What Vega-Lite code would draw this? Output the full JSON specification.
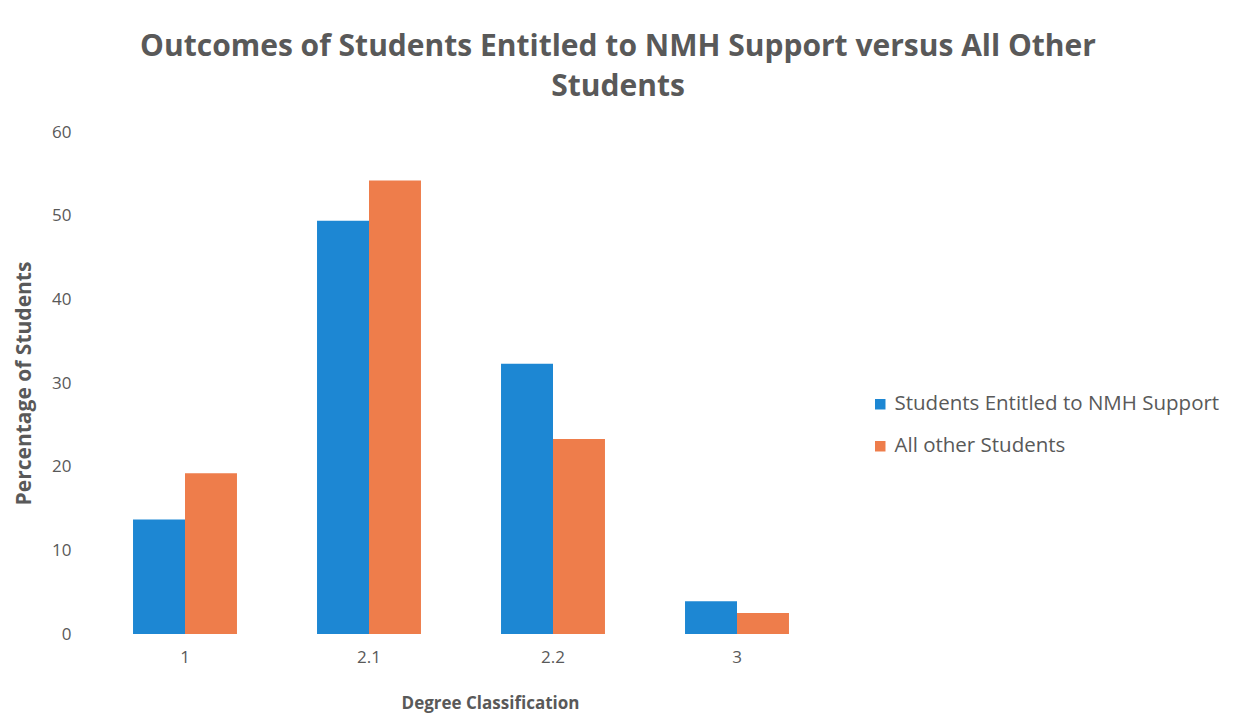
{
  "$schema": "https://vega.github.io/schema/vega-lite/v6.json",
  "width": 736,
  "height": 502,
  "autosize": {"type": "none"},
  "padding": {"left": 93, "top": 132, "right": 407, "bottom": 83},
  "background": "white",
  "config": {
    "font": "Open Sans",
    "view": {"stroke": null},
    "axis": {"grid": false, "domain": false, "ticks": false, "labelColor": "#595959", "titleColor": "#595959"}
  },
  "title": {
    "text": ["Outcomes of Students Entitled to NMH Support versus All Other", "Students"],
    "fontSize": 30,
    "fontWeight": "bold",
    "color": "#595959",
    "anchor": "middle",
    "dx": 157,
    "lineHeight": 40,
    "offset": 21
  },
  "data": {
    "values": [
      {"degree": "1", "group": "Students Entitled to NMH Support", "pct": 13.7},
      {"degree": "1", "group": "All other Students", "pct": 19.2},
      {"degree": "2.1", "group": "Students Entitled to NMH Support", "pct": 49.4},
      {"degree": "2.1", "group": "All other Students", "pct": 54.2},
      {"degree": "2.2", "group": "Students Entitled to NMH Support", "pct": 32.3},
      {"degree": "2.2", "group": "All other Students", "pct": 23.3},
      {"degree": "3", "group": "Students Entitled to NMH Support", "pct": 3.9},
      {"degree": "3", "group": "All other Students", "pct": 2.5}
    ]
  },
  "mark": {"type": "bar"},
  "encoding": {
    "x": {
      "field": "degree", "type": "nominal", "sort": null,
      "scale": {"paddingInner": 0.435, "paddingOuter": 0.2175},
      "axis": {"title": "Degree Classification", "labelAngle": 0, "labelFontSize": 17, "labelPadding": 15, "titleFontSize": 17, "titleFontWeight": "bold", "titlePadding": 30, "titleX": 397}
    },
    "xOffset": {"field": "group", "type": "nominal", "sort": ["Students Entitled to NMH Support", "All other Students"]},
    "y": {
      "field": "pct", "type": "quantitative",
      "scale": {"domain": [0, 60]},
      "axis": {"title": "Percentage  of Students", "values": [0, 10, 20, 30, 40, 50, 60], "labelOverlap": false, "labelFontSize": 17, "labelPadding": 22, "titleFontSize": 21, "titleFontWeight": "bold", "titlePadding": 17}
    },
    "color": {
      "field": "group", "type": "nominal",
      "sort": ["Students Entitled to NMH Support", "All other Students"],
      "scale": {"domain": ["Students Entitled to NMH Support", "All other Students"], "range": ["#1D87D3", "#EE7D4B"]},
      "legend": {"title": null, "orient": "none", "legendX": 777, "legendY": 262, "symbolType": "square", "symbolSize": 110, "labelFontSize": 20.5, "labelLimit": 500, "labelColor": "#595959", "rowPadding": 21, "labelOffset": 4}
    }
  }
}
